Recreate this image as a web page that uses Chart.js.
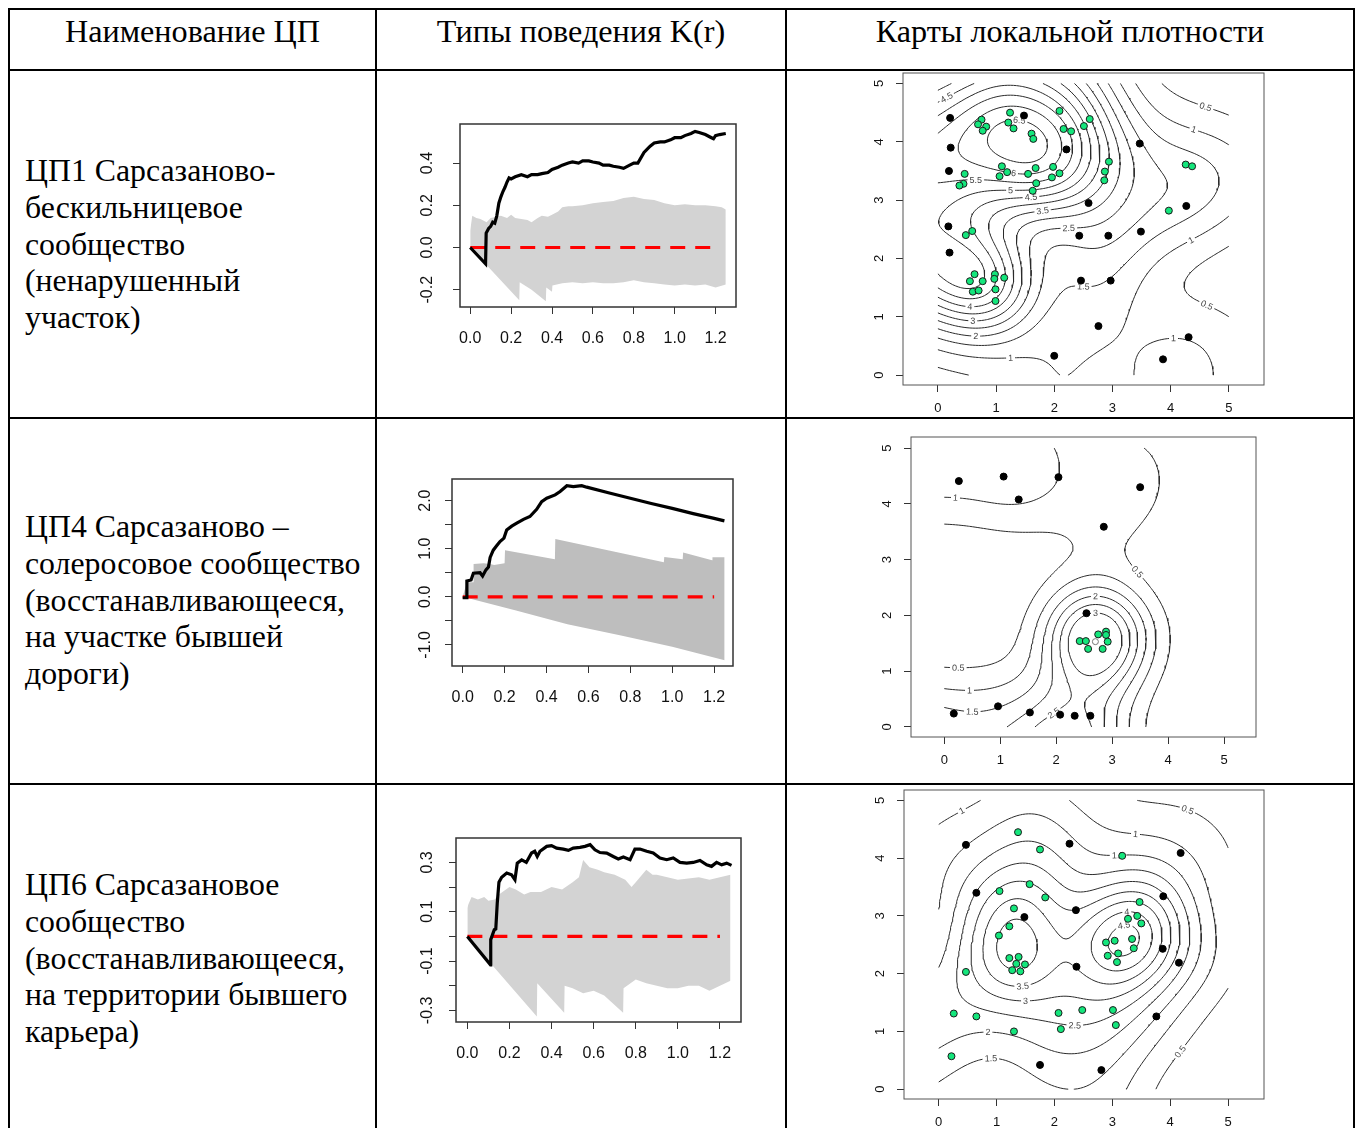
<!DOCTYPE html>
<html lang="ru">
<head>
<meta charset="utf-8">
<title>Типы поведения K(r) и карты локальной плотности</title>
<script src="https://cdn.jsdelivr.net/npm/chart.js@4.4.1/dist/chart.umd.min.js"></script>
<style>
  html, body { margin: 0; padding: 0; background: #fff; }
  body { position: relative; width: 1359px; height: 1128px; overflow: hidden;
         font-family: "Liberation Serif", "Times New Roman", serif; color: #000; }
  .hl, .vl { position: absolute; background: #000; }
  .hl { height: 2px; left: 8px; width: 1347px; }
  .vl { width: 2px; top: 8px; height: 1130px; }
  .head { position: absolute; top: 12px; font-size: 32.2px; line-height: 38px; text-align: center; white-space: nowrap; }
  .name { position: absolute; left: 25px; font-size: 31.8px; line-height: 36.8px; white-space: nowrap; }
</style>
</head>
<body>
<div class="hl" style="top:8px"></div>
<div class="hl" style="top:69px"></div>
<div class="hl" style="top:417px"></div>
<div class="hl" style="top:783px"></div>
<div class="vl" style="left:8px"></div>
<div class="vl" style="left:375px"></div>
<div class="vl" style="left:785px"></div>
<div class="vl" style="left:1353px"></div>

<div class="head" style="left:10px;width:365px">Наименование ЦП</div>
<div class="head" style="left:377px;width:408px">Типы поведения K(r)</div>
<div class="head" style="left:787px;width:566px">Карты локальной плотности</div>

<div class="name" style="top:153px">ЦП1 Сарсазаново-<br>бескильницевое<br>сообщество<br>(ненарушенный<br>участок)</div>
<div class="name" style="top:509px">ЦП4 Сарсазаново –<br>солеросовое сообщество<br>(восстанавливающееся,<br>на участке бывшей<br>дороги)</div>
<div class="name" style="top:867px">ЦП6 Сарсазановое<br>сообщество<br>(восстанавливающееся,<br>на территории бывшего<br>карьера)</div>

<script>
// ---------- K(r) curves, [r, value] ----------
const kTicksX = [0, 0.2, 0.4, 0.6, 0.8, 1.0, 1.2];
const kLabelsX = ["0.0", "0.2", "0.4", "0.6", "0.8", "1.0", "1.2"];
const theo = [[0, 0], [1.2, 0]];

// ЦП1
const k1TicksY = [-0.2, 0, 0.2, 0.4];
const k1LabelsY = ["-0.2", "0.0", "0.2", "0.4"];
const kObs1 = [[0,0],[0.075,-0.077],[0.078,0.068],[0.09,0.09],[0.1,0.1],[0.11,0.12],[0.12,0.115],[0.13,0.15],
  [0.14,0.21],[0.15,0.24],[0.16,0.265],[0.17,0.285],[0.18,0.31],[0.19,0.33],[0.2,0.325],[0.22,0.335],
  [0.25,0.345],[0.28,0.335],[0.3,0.345],[0.33,0.345],[0.35,0.35],[0.38,0.355],[0.4,0.37],[0.43,0.38],
  [0.45,0.39],[0.48,0.4],[0.5,0.405],[0.53,0.4],[0.55,0.41],[0.58,0.41],[0.6,0.405],[0.63,0.4],
  [0.65,0.39],[0.68,0.39],[0.7,0.385],[0.73,0.38],[0.75,0.375],[0.78,0.39],[0.8,0.4],[0.82,0.4],
  [0.85,0.45],[0.88,0.48],[0.9,0.495],[0.93,0.5],[0.95,0.5],[0.98,0.51],[1.0,0.52],[1.03,0.52],
  [1.05,0.53],[1.08,0.54],[1.1,0.55],[1.12,0.545],[1.15,0.535],[1.18,0.52],[1.19,0.515],[1.2,0.53],
  [1.22,0.535],[1.25,0.54]];
const envHi1 = [[0,0.08],[0.01,0.15],[0.03,0.14],[0.05,0.135],[0.08,0.12],[0.1,0.14],[0.13,0.145],[0.15,0.15],
  [0.18,0.14],[0.2,0.155],[0.22,0.14],[0.25,0.135],[0.28,0.13],[0.3,0.12],[0.33,0.14],[0.35,0.15],
  [0.38,0.145],[0.4,0.155],[0.43,0.17],[0.45,0.19],[0.48,0.195],[0.5,0.195],[0.55,0.2],[0.6,0.21],
  [0.65,0.215],[0.7,0.22],[0.75,0.235],[0.8,0.24],[0.85,0.23],[0.9,0.225],[0.95,0.21],[1.0,0.2],
  [1.05,0.205],[1.1,0.2],[1.15,0.2],[1.2,0.195],[1.23,0.19],[1.25,0.18]];
const envLo1 = [[0,0],[0.24,-0.25],[0.242,-0.165],[0.3,-0.2],[0.37,-0.255],[0.372,-0.19],[0.4,-0.21],
  [0.402,-0.18],[0.45,-0.17],[0.5,-0.165],[0.55,-0.17],[0.6,-0.165],[0.65,-0.17],[0.7,-0.17],
  [0.75,-0.165],[0.8,-0.155],[0.85,-0.165],[0.9,-0.17],[0.95,-0.175],[1.0,-0.18],[1.05,-0.175],
  [1.1,-0.18],[1.15,-0.175],[1.2,-0.19],[1.25,-0.175]];

// ЦП4
const k2TicksY = [-1, -0.5, 0, 0.5, 1, 1.5, 2];
const k2LabelsY = ["-1.0", "", "0.0", "", "1.0", "", "2.0"];
const kObs2 = [[0,-0.02],[0.019,-0.02],[0.02,0.33],[0.04,0.35],[0.051,0.49],[0.083,0.5],[0.095,0.43],
  [0.111,0.56],[0.123,0.62],[0.131,0.82],[0.146,0.97],[0.162,1.06],[0.178,1.15],[0.197,1.22],[0.21,1.39],
  [0.234,1.47],[0.258,1.53],[0.29,1.61],[0.321,1.67],[0.353,1.82],[0.377,1.98],[0.401,2.05],[0.441,2.12],
  [0.465,2.19],[0.497,2.31],[0.528,2.29],[0.568,2.31],[0.592,2.28],[0.7,2.16],[0.8,2.05],[0.9,1.94],
  [1.0,1.84],[1.1,1.73],[1.2,1.63],[1.249,1.58]];
const envHi2 = [[0,0],[0.02,0.3],[0.05,0.3],[0.052,0.68],[0.1,0.7],[0.13,0.68],[0.15,0.66],[0.2,0.7],
  [0.202,0.97],[0.44,0.78],[0.442,1.2],[0.96,0.72],[0.962,0.83],[1.05,0.78],[1.052,0.92],[1.19,0.76],
  [1.192,0.82],[1.25,0.82]];
const envLo2 = [[0,0],[0.25,-0.28],[0.5,-0.57],[0.75,-0.8],[1.0,-1.04],[1.25,-1.32]];

// ЦП6
const k3TicksY = [-0.3, -0.2, -0.1, 0, 0.1, 0.2, 0.3];
const k3LabelsY = ["-0.3", "", "-0.1", "", "0.1", "", "0.3"];
const kObs3 = [[0,0],[0.11,-0.115],[0.111,-0.013],[0.128,0.027],[0.135,0.03],[0.142,0.135],[0.15,0.22],
  [0.163,0.24],[0.187,0.257],[0.21,0.25],[0.226,0.23],[0.237,0.297],[0.258,0.31],[0.28,0.3],[0.305,0.338],
  [0.32,0.345],[0.332,0.324],[0.345,0.345],[0.377,0.365],[0.4,0.368],[0.424,0.358],[0.456,0.354],
  [0.48,0.349],[0.503,0.358],[0.535,0.361],[0.559,0.365],[0.583,0.372],[0.606,0.351],[0.63,0.34],
  [0.662,0.338],[0.693,0.324],[0.717,0.314],[0.741,0.322],[0.773,0.311],[0.796,0.354],[0.82,0.354],
  [0.852,0.345],[0.883,0.338],[0.915,0.318],[0.947,0.311],[0.978,0.318],[1.01,0.3],[1.042,0.297],
  [1.073,0.3],[1.105,0.308],[1.137,0.29],[1.16,0.284],[1.184,0.3],[1.208,0.29],[1.232,0.297],[1.255,0.288]];
const envHi3 = [[0,0.115],[0.005,0.13],[0.02,0.16],[0.05,0.15],[0.08,0.16],[0.1,0.145],[0.13,0.15],
  [0.15,0.17],[0.2,0.2],[0.23,0.19],[0.27,0.17],[0.3,0.18],[0.35,0.18],[0.4,0.2],[0.45,0.19],[0.5,0.22],
  [0.53,0.24],[0.55,0.31],[0.58,0.28],[0.62,0.27],[0.65,0.26],[0.7,0.25],[0.75,0.23],[0.78,0.2],
  [0.8,0.22],[0.85,0.27],[0.88,0.25],[0.9,0.25],[0.95,0.24],[1.0,0.23],[1.05,0.235],[1.1,0.24],
  [1.15,0.23],[1.2,0.24],[1.25,0.25]];
const envLo3 = [[0,0],[0.33,-0.325],[0.332,-0.19],[0.46,-0.31],[0.462,-0.2],[0.5,-0.21],[0.55,-0.23],
  [0.6,-0.22],[0.65,-0.24],[0.74,-0.31],[0.742,-0.21],[0.8,-0.175],[0.85,-0.19],[0.9,-0.2],[0.95,-0.21],
  [1.0,-0.21],[1.05,-0.2],[1.1,-0.2],[1.15,-0.22],[1.2,-0.2],[1.25,-0.18]];

// ---------- point maps, [x, y] ----------
const mapTicks = [0, 1, 2, 3, 4, 5];
const mapLabels = ["0", "1", "2", "3", "4", "5"];

const black1 = [[0.21,4.41],[1.48,4.45],[0.22,3.9],[2.21,3.87],[3.47,3.97],[0.19,3.5],[2.59,2.95],[4.27,2.9],
  [0.18,2.55],[2.43,2.39],[2.93,2.39],[3.49,2.46],[0.2,2.1],[2.46,1.62],[2.97,1.62],[2.76,0.84],[2.0,0.33],
  [3.87,0.27],[4.31,0.65]];
const green1 = [[1.24,4.5],[0.75,4.38],[0.69,4.3],[0.83,4.26],[0.77,4.19],[1.21,4.33],[1.3,4.23],[1.61,4.14],
  [1.64,4.05],[2.09,4.53],[2.16,4.22],[2.29,4.18],[2.51,4.27],[2.61,4.39],[2.94,3.66],[2.87,3.49],[2.86,3.34],
  [4.26,3.61],[4.37,3.58],[3.97,2.82],[1.1,3.58],[1.19,3.48],[1.06,3.41],[1.55,3.45],[1.68,3.55],[1.98,3.57],
  [2.09,3.46],[1.96,3.39],[1.69,3.29],[1.63,3.16],[0.46,3.45],[0.44,3.28],[0.37,3.25],[0.48,2.4],[0.59,2.47],
  [0.63,1.73],[0.55,1.61],[0.77,1.61],[0.6,1.43],[0.7,1.45],[0.98,1.73],[0.97,1.65],[1.14,1.67],[0.99,1.47],
  [0.99,1.27]];
const hollow1 = [];
const levels1 = [0.5, 1, 1.5, 2, 2.5, 3, 3.5, 4, 4.5, 5, 5.5, 6, 6.5];

const black2 = [[0.26,4.41],[1.06,4.49],[1.33,4.08],[2.04,4.48],[3.5,4.3],[2.85,3.59],[2.54,2.04],[0.17,0.24],
  [0.96,0.37],[1.53,0.26],[2.07,0.22],[2.33,0.2],[2.61,0.2]];
const green2 = [[2.42,1.54],[2.53,1.54],[2.57,1.4],[2.75,1.66],[2.89,1.71],[2.89,1.65],[2.92,1.53],[2.83,1.4]];
const hollow2 = [[2.7,1.53]];
const levels2 = [0.5, 1, 1.5, 2, 2.5, 3];

const black3 = [[0.47,4.23],[2.26,4.25],[4.18,4.09],[0.65,3.4],[3.88,3.34],[2.37,3.1],[1.48,2.98],[3.87,2.43],
  [2.38,2.12],[4.15,2.19],[3.76,1.26],[1.75,0.42],[2.81,0.33]];
const green3 = [[1.37,4.45],[1.75,4.15],[3.17,4.04],[1.57,3.55],[1.05,3.43],[1.84,3.32],[1.3,3.13],[1.22,2.82],
  [1.04,2.66],[3.47,3.24],[3.27,2.95],[3.43,3.0],[3.5,2.87],[2.89,2.54],[3.04,2.57],[3.34,2.6],[3.37,2.44],
  [2.92,2.31],[3.1,2.35],[3.08,2.2],[1.22,2.27],[1.38,2.29],[1.34,2.17],[1.49,2.16],[1.27,2.06],[1.41,2.04],
  [0.47,2.03],[0.26,1.31],[0.65,1.26],[1.3,1.0],[2.07,1.32],[2.11,1.04],[2.48,1.37],[3.01,1.37],[3.06,1.11],
  [0.22,0.57]];
const hollow3 = [];
const levels3 = [0.5, 1, 1.5, 2, 2.5, 3, 3.5, 4, 4.5];

// ---------- where each plot box sits on the page ----------
const boxes = {
  k1: { L: 460, T: 124, R: 736, B: 307, x: [-0.05, 1.30], y: [-0.282, 0.585] },
  k2: { L: 452, T: 479, R: 733, B: 666, x: [-0.051, 1.29], y: [-1.44, 2.45] },
  k3: { L: 456, T: 838, R: 741, B: 1022, x: [-0.054, 1.30], y: [-0.347, 0.399] },
  m1: { L: 903, T: 73, R: 1264, B: 385, x: [-0.6, 5.606], y: [-0.17, 5.18] },
  m2: { L: 911, T: 437, R: 1256, B: 737, x: [-0.595, 5.57], y: [-0.18, 5.2] },
  m3: { L: 904, T: 790, R: 1264, B: 1099, x: [-0.6, 5.62], y: [-0.17, 5.18] }
};

const SANS = '"Liberation Sans", Arial, sans-serif';
const PAD = 30;
const toXY = arr => arr.map(p => ({ x: p[0], y: p[1] }));

function makeCanvas(box, yW, xH) {
  const c = document.createElement("canvas");
  const w = box.R - box.L + yW + PAD, h = box.B - box.T + PAD + xH;
  c.width = w; c.height = h;
  c.style.cssText = "position:absolute;left:" + (box.L - yW) + "px;top:" + (box.T - PAD) + "px;width:" + w + "px;height:" + h + "px";
  document.body.appendChild(c);
  return c;
}

function frame(color, width) {
  return {
    id: "frame",
    afterDatasetsDraw(chart) {
      const { ctx, chartArea: a } = chart;
      ctx.save();
      ctx.strokeStyle = color;
      ctx.lineWidth = width;
      ctx.strokeRect(a.left, a.top, a.right - a.left, a.bottom - a.top);
      ctx.restore();
    }
  };
}

function axes(box, o) {
  const tickGrid = { drawOnChartArea: false, drawTicks: true, tickLength: 7, tickColor: "#333", lineWidth: 1 };
  return {
    x: {
      type: "linear", min: box.x[0], max: box.x[1],
      afterBuildTicks: s => { s.ticks = o.ticksX.map(v => ({ value: v })); },
      afterFit: s => { s.height = o.xH; },
      grid: tickGrid, border: { display: false },
      ticks: { autoSkip: false, minRotation: 0, maxRotation: 0, padding: o.xPad, color: "#111",
               font: { family: SANS, size: o.font }, callback: (v, i) => o.labelsX[i] }
    },
    y: {
      type: "linear", min: box.y[0], max: box.y[1],
      afterBuildTicks: s => { s.ticks = o.ticksY.map(v => ({ value: v })); },
      afterFit: s => { s.width = o.yW; },
      grid: tickGrid, border: { display: false },
      ticks: { autoSkip: false, minRotation: 90, maxRotation: 90, crossAlign: "center", padding: o.yPad,
               color: "#111", font: { family: SANS, size: o.font }, callback: (v, i) => o.labelsY[i] }
    }
  };
}

function kChart(box, obs, hi, lo, gray, ticksY, labelsY, yPad) {
  const canvas = makeCanvas(box, 50, 50);
  new Chart(canvas, {
    type: "line",
    data: {
      datasets: [
        { data: toXY(obs), borderColor: "#000", borderWidth: 3.2, pointRadius: 0, fill: false },
        { data: toXY(theo), borderColor: "#ff0000", borderWidth: 3.2, borderDash: [15, 10], pointRadius: 0, fill: false },
        { data: toXY(hi), borderColor: "rgba(0,0,0,0)", borderWidth: 1, pointRadius: 0, backgroundColor: gray, fill: "+1" },
        { data: toXY(lo), borderColor: "rgba(0,0,0,0)", borderWidth: 1, pointRadius: 0, fill: false }
      ]
    },
    options: {
      responsive: false, animation: false, events: [],
      layout: { padding: { top: PAD, right: PAD, left: 0, bottom: 0 } },
      plugins: { legend: { display: false }, tooltip: { enabled: false } },
      scales: axes(box, { ticksX: kTicksX, labelsX: kLabelsX, ticksY, labelsY, xH: 50, yW: 50,
                          xPad: 15, yPad, font: 16 })
    },
    plugins: [frame("#333", 1.5)]
  });
}

/* ---------- kernel density (Gaussian, edge-corrected) + contour lines ---------- */
const WIN = 5, SIGMA = 0.625, GRID = 101;

function pnorm(z) {
  const x = Math.abs(z) / Math.SQRT2, t = 1 / (1 + 0.3275911 * x);
  const erf = 1 - ((((1.061405429 * t - 1.453152027) * t + 1.421413741) * t - 0.284496736) * t + 0.254829592) * t * Math.exp(-x * x);
  return z >= 0 ? 0.5 * (1 + erf) : 0.5 * (1 - erf);
}

function densityGrid(points) {
  const step = WIN / (GRID - 1), s2 = 2 * SIGMA * SIGMA, norm = 1 / (Math.PI * s2);
  const g = [];
  for (let j = 0; j < GRID; j++) {
    const y = j * step, row = [];
    const ey = pnorm((WIN - y) / SIGMA) - pnorm(-y / SIGMA);
    for (let i = 0; i < GRID; i++) {
      const x = i * step;
      let s = 0;
      points.forEach(p => { const dx = x - p[0], dy = y - p[1]; s += Math.exp(-(dx * dx + dy * dy) / s2); });
      const ex = pnorm((WIN - x) / SIGMA) - pnorm(-x / SIGMA);
      row.push(s * norm / (ex * ey));
    }
    g.push(row);
  }
  return g;
}

function isoLines(g, level) {
  const step = WIN / (GRID - 1), segs = [];
  const f = (a, b) => (level - a) / (b - a);
  const table = { 1: [["l", "b"]], 2: [["b", "r"]], 3: [["l", "r"]], 4: [["r", "t"]], 6: [["b", "t"]],
    7: [["l", "t"]], 8: [["t", "l"]], 9: [["t", "b"]], 11: [["t", "r"]], 12: [["r", "l"]],
    13: [["r", "b"]], 14: [["b", "l"]] };
  for (let j = 0; j < GRID - 1; j++) {
    for (let i = 0; i < GRID - 1; i++) {
      const v0 = g[j][i], v1 = g[j][i + 1], v2 = g[j + 1][i + 1], v3 = g[j + 1][i];
      const c = (v0 > level ? 1 : 0) | (v1 > level ? 2 : 0) | (v2 > level ? 4 : 0) | (v3 > level ? 8 : 0);
      if (c === 0 || c === 15) continue;
      const E = {
        b: () => ({ k: "h" + i + "_" + j, x: (i + f(v0, v1)) * step, y: j * step }),
        r: () => ({ k: "v" + (i + 1) + "_" + j, x: (i + 1) * step, y: (j + f(v1, v2)) * step }),
        t: () => ({ k: "h" + i + "_" + (j + 1), x: (i + f(v3, v2)) * step, y: (j + 1) * step }),
        l: () => ({ k: "v" + i + "_" + j, x: i * step, y: (j + f(v0, v3)) * step })
      };
      let pairs = table[c];
      if (c === 5 || c === 10) {
        const mid = (v0 + v1 + v2 + v3) / 4 > level;
        if (c === 5) pairs = mid ? [["b", "r"], ["t", "l"]] : [["l", "b"], ["r", "t"]];
        else pairs = mid ? [["l", "b"], ["r", "t"]] : [["b", "r"], ["t", "l"]];
      }
      pairs.forEach(pr => segs.push([E[pr[0]](), E[pr[1]]()]));
    }
  }
  // join the cell segments into polylines
  const adj = new Map();
  segs.forEach((s, idx) => s.forEach(p => { if (!adj.has(p.k)) adj.set(p.k, []); adj.get(p.k).push(idx); }));
  const used = new Array(segs.length).fill(false);
  const walk = (start, out) => {
    let cur = start;
    for (;;) {
      const nxt = adj.get(cur.k).find(id => !used[id]);
      if (nxt === undefined) break;
      used[nxt] = true;
      const s = segs[nxt];
      cur = s[0].k === cur.k ? s[1] : s[0];
      out.push(cur);
    }
  };
  const lines = [];
  segs.forEach((s, idx) => {
    if (used[idx]) return;
    used[idx] = true;
    const fwd = [s[0], s[1]], back = [];
    walk(s[1], fwd);
    walk(s[0], back);
    lines.push(back.reverse().concat(fwd));
  });
  return lines;
}

// flat, near-horizontal label spot, skipping spots that crowd an earlier label
function labelSpot(line, placed) {
  const n = line.length, w = 3;
  let total = 0;
  for (let i = 1; i < n; i++) total += Math.hypot(line[i].x - line[i - 1].x, line[i].y - line[i - 1].y);
  if (total < 0.7 || n < 2 * w + 3) return null;
  const cand = [];
  for (let k = w + 1; k < n - w - 1; k++) {
    const a = line[k - w], p = line[k], b = line[k + w];
    const a1 = Math.atan2(p.y - a.y, p.x - a.x), a2 = Math.atan2(b.y - p.y, b.x - p.x);
    let d = Math.abs(a2 - a1);
    if (d > Math.PI) d = 2 * Math.PI - d;
    const tilt = Math.abs(Math.sin(Math.atan2(b.y - a.y, b.x - a.x)));
    const edge = Math.min(p.x, WIN - p.x, p.y, WIN - p.y) < 0.15 ? 1 : 0;
    cand.push({ k, score: d + 0.8 * tilt + edge + 0.12 * p.y / WIN });
  }
  cand.sort((u, v) => u.score - v.score);
  for (const c of cand) {
    const p = line[c.k];
    if (placed.every(q => Math.abs(q.x - p.x) > 0.35 || Math.abs(q.y - p.y) > 0.2)) {
      const a = line[c.k - 2], b = line[c.k + 2];
      const spot = { x: p.x, y: p.y, x1: a.x, y1: a.y, x2: b.x, y2: b.y };
      placed.push(spot);
      return spot;
    }
  }
  return null;
}

const contourLabels = {
  id: "contourLabels",
  afterDatasetDraw(chart, args) {
    const ds = chart.data.datasets[args.index];
    if (!ds.contourLabels) return;
    const { ctx, scales: { x, y } } = chart;
    ctx.font = "9px " + SANS;
    ctx.textAlign = "center";
    ctx.textBaseline = "middle";
    ds.contourLabels.forEach(lb => {
      const px = x.getPixelForValue(lb.x), py = y.getPixelForValue(lb.y);
      let ang = Math.atan2(y.getPixelForValue(lb.y2) - y.getPixelForValue(lb.y1),
                           x.getPixelForValue(lb.x2) - x.getPixelForValue(lb.x1));
      if (ang > Math.PI / 2) ang -= Math.PI;
      if (ang < -Math.PI / 2) ang += Math.PI;
      const w = ctx.measureText(lb.text).width + 4;
      ctx.save();
      ctx.translate(px, py);
      ctx.rotate(ang);
      ctx.fillStyle = "#fff";
      ctx.fillRect(-w / 2, -5, w, 10);
      ctx.fillStyle = "#444";
      ctx.fillText(lb.text, 0, 0.5);
      ctx.restore();
    });
  }
};

function mapChart(box, black, green, hollow, levels) {
  const grid = densityGrid(black.concat(green, hollow));
  const lineData = [], labels = [], placed = [];
  levels.slice().reverse().forEach(lv => {
    isoLines(grid, lv).forEach(line => {
      line.forEach(p => lineData.push({ x: p.x, y: p.y }));
      lineData.push({ x: NaN, y: NaN });
      const spot = labelSpot(line, placed);
      if (spot) labels.push(Object.assign(spot, { text: String(lv) }));
    });
  });
  const canvas = makeCanvas(box, 40, 40);
  new Chart(canvas, {
    type: "line",
    data: {
      datasets: [
        { data: toXY(black), showLine: false, pointRadius: 3.5, pointBackgroundColor: "#000", pointBorderColor: "#000", pointBorderWidth: 1 },
        { data: toXY(green), showLine: false, pointRadius: 3.5, pointBackgroundColor: "#14e67c", pointBorderColor: "#1a1a1a", pointBorderWidth: 1 },
        { data: toXY(hollow), showLine: false, pointRadius: 3, pointBackgroundColor: "#fff", pointBorderColor: "#777", pointBorderWidth: 1 },
        { data: lineData, borderColor: "#2b2b2b", borderWidth: 1, pointRadius: 0, fill: false, spanGaps: false,
          contourLabels: labels }
      ]
    },
    options: {
      responsive: false, animation: false, events: [],
      layout: { padding: { top: PAD, right: PAD, left: 0, bottom: 0 } },
      plugins: { legend: { display: false }, tooltip: { enabled: false } },
      scales: axes(box, { ticksX: mapTicks, labelsX: mapLabels, ticksY: mapTicks, labelsY: mapLabels,
                          xH: 40, yW: 40, xPad: 9, yPad: 13, font: 13 })
    },
    plugins: [frame("#555", 1), contourLabels]
  });
}

kChart(boxes.k1, kObs1, envHi1, envLo1, "rgb(211,211,211)", k1TicksY, k1LabelsY, 12);
kChart(boxes.k2, kObs2, envHi2, envLo2, "rgb(190,190,190)", k2TicksY, k2LabelsY, 6);
kChart(boxes.k3, kObs3, envHi3, envLo3, "rgb(211,211,211)", k3TicksY, k3LabelsY, 8);
mapChart(boxes.m1, black1, green1, hollow1, levels1);
mapChart(boxes.m2, black2, green2, hollow2, levels2);
mapChart(boxes.m3, black3, green3, hollow3, levels3);
</script>
</body>
</html>
